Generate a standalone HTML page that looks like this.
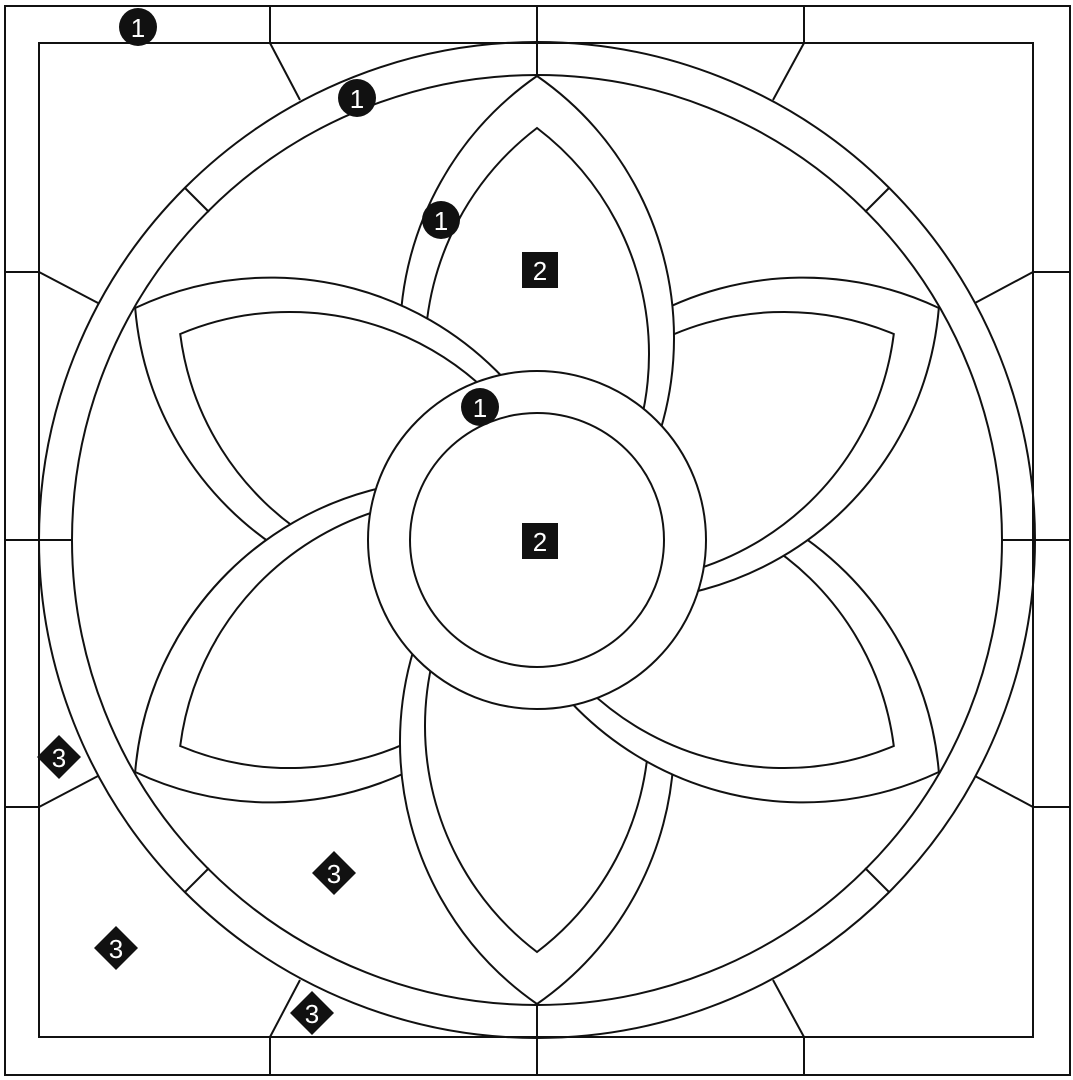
<!DOCTYPE html>
<html><head><meta charset="utf-8"><style>
html,body{margin:0;padding:0;background:#fff;}
svg{display:block;}
text{font-family:"Liberation Sans",sans-serif;font-size:26px;fill:#fff;text-anchor:middle;dominant-baseline:central;}
</style></head><body>
<svg width="1073" height="1080" viewBox="0 0 1073 1080" xmlns="http://www.w3.org/2000/svg">
<g fill="none" stroke="#111" stroke-width="2">
<rect x="5" y="6" width="1065" height="1069"/>
<rect x="39" y="43" width="994" height="994"/>
<line x1="270" y1="6" x2="270" y2="43"/><line x1="804" y1="6" x2="804" y2="43"/>
<line x1="537" y1="6" x2="537" y2="76"/>
<line x1="270" y1="1037" x2="270" y2="1075"/><line x1="804" y1="1037" x2="804" y2="1075"/>
<line x1="537" y1="1003" x2="537" y2="1075"/>
<line x1="5" y1="272" x2="39" y2="272"/><line x1="5" y1="807" x2="39" y2="807"/>
<line x1="5" y1="540" x2="72" y2="540"/>
<line x1="1033" y1="272" x2="1070" y2="272"/><line x1="1033" y1="807" x2="1070" y2="807"/>
<line x1="1001" y1="540" x2="1070" y2="540"/>
<line x1="270" y1="43" x2="300" y2="100"/><line x1="804" y1="43" x2="773" y2="100"/>
<line x1="270" y1="1037" x2="300" y2="980"/><line x1="804" y1="1037" x2="773" y2="980"/>
<line x1="39" y1="272" x2="98" y2="303"/><line x1="39" y1="807" x2="98" y2="776"/>
<line x1="1033" y1="272" x2="975" y2="303"/><line x1="1033" y1="807" x2="975" y2="776"/>
<circle cx="537" cy="540" r="498"/>
<circle cx="537" cy="540" r="465"/>
<line x1="185" y1="188" x2="209" y2="212"/><line x1="889" y1="188" x2="865" y2="212"/>
<line x1="185" y1="892" x2="209" y2="868"/><line x1="889" y1="892" x2="865" y2="868"/>
</g>
<defs>
<g id="petal">
<path d="M537,76 A319,319 0 0 0 537,600 A319,319 0 0 0 537,76 Z" fill="#fff" stroke="#111" stroke-width="2"/>
<path d="M537,128 A284,284 0 0 0 537,580 A284,284 0 0 0 537,128 Z" fill="#fff" stroke="#111" stroke-width="2"/>
</g>
<clipPath id="cl"><rect x="0" y="0" width="537" height="640"/></clipPath>
</defs>
<use href="#petal" transform="rotate(-120 537 540)"/>
<use href="#petal" transform="rotate(180 537 540)"/>
<use href="#petal" transform="rotate(120 537 540)"/>
<use href="#petal" transform="rotate(60 537 540)"/>
<use href="#petal"/>
<use href="#petal" transform="rotate(-60 537 540)"/>
<g clip-path="url(#cl)"><use href="#petal" transform="rotate(-120 537 540)"/></g>
<circle cx="537" cy="540" r="169" fill="#fff" stroke="#111" stroke-width="2"/>
<circle cx="537" cy="540" r="127" fill="#fff" stroke="#111" stroke-width="2"/>
<g fill="#111">
<circle cx="138" cy="27" r="19"/><circle cx="357" cy="98" r="19"/>
<circle cx="441" cy="220" r="19"/><circle cx="480" cy="407" r="19"/>
<rect x="522" y="252" width="36" height="36"/><rect x="522" y="523" width="36" height="36"/>
<polygon points="59,735 81,757 59,779 37,757"/>
<polygon points="334,851 356,873 334,895 312,873"/>
<polygon points="116,926 138,948 116,970 94,948"/>
<polygon points="312,991 334,1013 312,1035 290,1013"/>
</g>
<text x="138" y="28">1</text><text x="357" y="99">1</text>
<text x="441" y="221">1</text><text x="480" y="408">1</text>
<text x="540" y="271">2</text><text x="540" y="542">2</text>
<text x="59" y="758">3</text><text x="334" y="874">3</text>
<text x="116" y="949">3</text><text x="312" y="1014">3</text>
</svg>
</body></html>
